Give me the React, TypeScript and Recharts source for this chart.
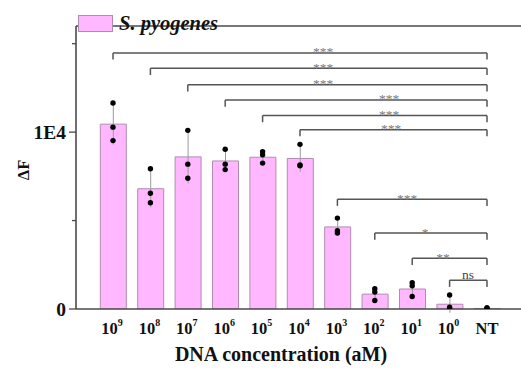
import React from 'react';
import {
  ComposedChart,
  Bar,
  Scatter,
  XAxis,
  YAxis,
  ErrorBar,
  ReferenceLine,
  Legend,
} from 'recharts';

// ---------- data ----------
const categories = ['10^9', '10^8', '10^7', '10^6', '10^5', '10^4', '10^3', '10^2', '10^1', '10^0', 'NT'];
const meanValues = [10450, 6800, 8600, 8370, 8580, 8510, 4640, 840, 1130, 270, 30];
const sdValues = [1150, 1050, 1500, 620, 330, 750, 500, 330, 380, 480, 50];
const rep1 = [11650, 7930, 10100, 9030, 8900, 9310, 5140, 1150, 1490, 790, 80];
const rep2 = [10280, 6540, 8190, 8190, 8720, 8150, 4430, 960, 1310, 100, 20];
const rep3 = [9520, 6010, 7390, 7880, 8250, 8100, 4290, 480, 710, 0, 0];

const yTicks = [0, 5000, 10000, 15000];
const yTickLabels: Record<number, string> = { 0: '0', 10000: '1E4' };

const bracketFrom = ['10^9', '10^8', '10^7', '10^6', '10^5', '10^4', '10^3', '10^2', '10^1', '10^0'];
const bracketTo = 'NT';
const bracketY = [14480, 13610, 12680, 11820, 10940, 10140, 6210, 4290, 2870, 1630];
const bracketLabels = ['***', '***', '***', '***', '***', '***', '***', '*', '**', 'ns'];
const bracketDrop = 380;

const seriesName = 'S. pyogenes';

// ---------- styles ----------
const FONT = '"Liberation Serif", "Times New Roman", Times, serif';
const AXIS_COLOR = '#4a4a4a';
const BRACKET_COLOR = '#555555';
const STAR_COLOR = '#7a7a7a';
const BAR_FILL = '#ffb8ff';
const BAR_STROKE = '#b08cb0';
// label offset (px) measured from the right end of each bracket
const labelDx = [164, 164, 164, 98, 98, 96, 80, 62, 44, 19];

const data = categories.map((name, i) => ({
  name,
  mean: meanValues[i],
  sd: sdValues[i],
  rep1: rep1[i],
  rep2: rep2[i],
  rep3: rep3[i],
}));

const XTick = (props: any) => {
  const { x, y, payload } = props;
  const v: string = payload.value;
  if (v.includes('^')) {
    const [base, exp] = v.split('^');
    return (
      <text x={x - 1} y={y + 25} textAnchor="middle" fontFamily={FONT} fontWeight="bold" fontSize={16.5} fill="#111">
        <tspan>{base}</tspan>
        <tspan dy={-8} fontSize={10}>{exp}</tspan>
      </text>
    );
  }
  return (
    <text x={x} y={y + 25} textAnchor="middle" fontFamily={FONT} fontWeight="bold" fontSize={16.5} fill="#111">
      {v}
    </text>
  );
};

const YTick = (props: any) => {
  const { x, y, payload } = props;
  const label = yTickLabels[payload.value];
  const major = label !== undefined;
  return (
    <g>
      <line x1={x - (major ? 7 : 4)} x2={x} y1={y} y2={y} stroke={AXIS_COLOR} strokeWidth={1.3} />
      {major && (
        <text x={x - 10} y={y + 6.5} textAnchor="end" fontFamily={FONT} fontWeight="bold" fontSize={19.5} fill="#111">
          {label}
        </text>
      )}
    </g>
  );
};

const Dot = (props: any) => {
  const { cx, cy } = props;
  if (cx == null || cy == null) return null;
  return <circle cx={cx} cy={cy} r={2.7} fill="#000" />;
};

const LegendContent = (props: any) => {
  const items = (props.payload || []).filter((p: any) => p.dataKey === 'mean');
  return (
    <div style={{ display: 'flex', alignItems: 'center' }}>
      {items.map((p: any) => (
        <div key={p.value} style={{ display: 'flex', alignItems: 'center' }}>
          <div
            style={{
              width: 35,
              height: 17,
              background: BAR_FILL,
              border: `1px solid ${BAR_STROKE}`,
              boxSizing: 'border-box',
            }}
          />
          <span
            style={{
              marginLeft: 6,
              fontFamily: FONT,
              fontWeight: 'bold',
              fontStyle: 'italic',
              fontSize: 20.5,
              color: '#111',
              lineHeight: '17px',
            }}
          >
            {p.value}
          </span>
        </div>
      ))}
    </div>
  );
};

const makeBracketLabel = (text: string, dx: number) => (props: any) => {
  const vb = props.viewBox || {};
  const isNs = text === 'ns';
  return (
    <text
      x={vb.x + vb.width - dx}
      y={vb.y + (isNs ? -1.5 : 3.5)}
      textAnchor="middle"
      fontFamily={FONT}
      fontSize={13.5}
      fill={isNs ? '#444' : STAR_COLOR}
    >
      {text}
    </text>
  );
};

export default function App() {
  return (
    <div
      style={{
        position: 'absolute',
        left: 0,
        top: 0,
        width: 521,
        height: 371,
        overflow: 'hidden',
        background: '#fff',
      }}
    >
      <ComposedChart
        width={540}
        height={371}
        data={data}
        margin={{ top: 9, right: 10, bottom: 22, left: 0 }}
      >
        <XAxis
          dataKey="name"
          type="category"
          height={40}
          padding={{ left: 18.3, right: 24.3 }}
          axisLine={{ stroke: AXIS_COLOR, strokeWidth: 1.6 }}
          tickLine={false}
          tickSize={0}
          tickMargin={0}
          interval={0}
          tick={<XTick />}
          label={(p: any) => {
            const vb = p.viewBox || {};
            return (
              <text
                x={vb.x + 205}
                y={vb.y + 52}
                textAnchor="middle"
                fontFamily={FONT}
                fontWeight="bold"
                fontSize={20}
                fill="#111"
              >
                DNA concentration (aM)
              </text>
            );
          }}
        />
        <YAxis
          type="number"
          width={76}
          domain={[0, 16000]}
          ticks={yTicks}
          interval={0}
          allowDataOverflow
          axisLine={{ stroke: AXIS_COLOR, strokeWidth: 1.6 }}
          tickLine={false}
          tickSize={0}
          tickMargin={0}
          tick={<YTick />}
          label={(p: any) => {
            const vb = p.viewBox || {};
            const cx = vb.x + 23;
            const cy = vb.y + 144;
            return (
              <text
                x={cx}
                y={cy}
                transform={`rotate(-90 ${cx} ${cy})`}
                textAnchor="middle"
                dominantBaseline="central"
                fontFamily={FONT}
                fontWeight="bold"
                fontSize={16.5}
                fill="#111"
              >
                ΔF
              </text>
            );
          }}
        />
        <ReferenceLine y={16000} stroke={AXIS_COLOR} strokeWidth={1.6} ifOverflow="visible" />
        <Legend
          verticalAlign="top"
          align="left"
          content={<LegendContent />}
          wrapperStyle={{ position: 'absolute', top: 15, left: 78, width: 'auto' }}
        />
        <Bar
          dataKey="mean"
          name={seriesName}
          barSize={26}
          fill={BAR_FILL}
          stroke={BAR_STROKE}
          strokeWidth={1}
          isAnimationActive={false}
        >
          <ErrorBar dataKey="sd" width={0} stroke="#9a9a9a" strokeWidth={1} direction="y" />
        </Bar>
        <Scatter dataKey="rep1" legendType="none" shape={<Dot />} isAnimationActive={false} />
        <Scatter dataKey="rep2" legendType="none" shape={<Dot />} isAnimationActive={false} />
        <Scatter dataKey="rep3" legendType="none" shape={<Dot />} isAnimationActive={false} />
        {bracketFrom.map((from, i) => (
          <ReferenceLine
            key={`h${i}`}
            segment={[
              { x: from, y: bracketY[i] },
              { x: bracketTo, y: bracketY[i] },
            ]}
            stroke={BRACKET_COLOR}
            strokeWidth={1.5}
            label={makeBracketLabel(bracketLabels[i], labelDx[i])}
          />
        ))}
        {bracketFrom.map((from, i) => (
          <ReferenceLine
            key={`l${i}`}
            segment={[
              { x: from, y: bracketY[i] },
              { x: from, y: bracketY[i] - bracketDrop },
            ]}
            stroke={BRACKET_COLOR}
            strokeWidth={1.5}
          />
        ))}
        {bracketFrom.map((from, i) => (
          <ReferenceLine
            key={`r${i}`}
            segment={[
              { x: bracketTo, y: bracketY[i] },
              { x: bracketTo, y: bracketY[i] - bracketDrop },
            ]}
            stroke={BRACKET_COLOR}
            strokeWidth={1.5}
          />
        ))}
      </ComposedChart>
    </div>
  );
}
